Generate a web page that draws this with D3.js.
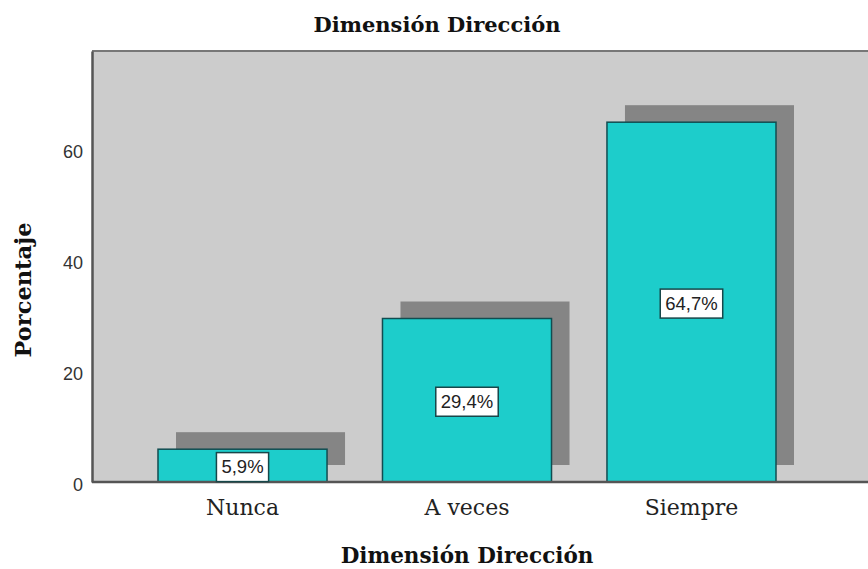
<!DOCTYPE html>
<html>
<head>
<meta charset="utf-8">
<script src="https://cdn.jsdelivr.net/npm/d3@7"></script>
<style>
  html, body { margin: 0; padding: 0; background: #ffffff; }
  svg { display: block; }
</style>
</head>
<body>
<svg id="chart" width="868" height="569"></svg>
<script>
// Frequency distribution for "Dimensión Dirección"
const categories = ["Nunca", "A veces", "Siempre"];
const percentages = [5.9, 29.4, 64.7];
const valueLabels = ["5,9%", "29,4%", "64,7%"];
const yTicks = [0, 20, 40, 60];

const chartTitle = "Dimensión Dirección";
const xTitle = "Dimensión Dirección";
const yTitle = "Porcentaje";

const W = 868, H = 569;
const plot = { left: 92, top: 51, right: 880, bottom: 482 };

const svg = d3.select("#chart");

const x = d3.scaleBand()
  .domain(categories)
  .range([plot.left, 842])
  .paddingInner(0.247)
  .paddingOuter(0.294);

const y = d3.scaleLinear()
  .domain([0, 77.5])
  .range([plot.bottom, plot.top]);

const serif = "'DejaVu Serif', 'Liberation Serif', serif";
const sans = "'Liberation Sans', Arial, sans-serif";

// plot background
svg.append("rect")
  .attr("x", plot.left).attr("y", plot.top)
  .attr("width", plot.right - plot.left)
  .attr("height", plot.bottom - plot.top)
  .attr("fill", "#cccccc");

// top frame line
svg.append("line")
  .attr("x1", plot.left).attr("x2", plot.right)
  .attr("y1", plot.top).attr("y2", plot.top)
  .attr("stroke", "#777777").attr("stroke-width", 2);

// drop shadows behind bars
const shadowDx = 18, shadowDy = -17;
svg.append("g").selectAll("rect")
  .data(percentages)
  .join("rect")
  .attr("x", (d, i) => x(categories[i]) + shadowDx)
  .attr("y", d => y(d) + shadowDy)
  .attr("width", x.bandwidth())
  .attr("height", d => y(0) - y(d))
  .attr("fill", "#858585");

// bars
svg.append("g").selectAll("rect")
  .data(percentages)
  .join("rect")
  .attr("x", (d, i) => x(categories[i]))
  .attr("y", d => y(d))
  .attr("width", x.bandwidth())
  .attr("height", d => y(0) - y(d))
  .attr("fill", "#1dcdcb")
  .attr("stroke", "#124c50")
  .attr("stroke-width", 1.5);

// y axis (no tick marks)
const yAxis = d3.axisLeft(y).tickValues(yTicks).tickSize(0).tickPadding(9);
const gy = svg.append("g")
  .attr("transform", `translate(${plot.left},0)`)
  .call(yAxis);
gy.select(".domain").attr("stroke", "#555555").attr("stroke-width", 2.5);
gy.selectAll("text")
  .attr("font-family", sans).attr("font-size", 18)
  .attr("fill", "#333333").attr("dy", "0.65em")
  .attr("y", -3);

// x axis
const xAxis = d3.axisBottom(x).tickSize(0).tickPadding(17);
const gx = svg.append("g")
  .attr("transform", `translate(0,${plot.bottom})`)
  .call(xAxis);
gx.select(".domain").attr("stroke", "#555555").attr("stroke-width", 2.5)
  .attr("d", `M${plot.left},0H${plot.right}`);
gx.selectAll("text")
  .attr("font-family", serif).attr("font-size", 22)
  .attr("fill", "#222222");

// value labels in boxes
const labels = svg.append("g").selectAll("g")
  .data(percentages)
  .join("g")
  .attr("transform", (d, i) =>
    `translate(${x(categories[i]) + x.bandwidth() / 2},${(y(d) + y(0)) / 2 + 1})`);

labels.append("text")
  .attr("text-anchor", "middle")
  .attr("dy", "0.35em")
  .attr("font-family", sans).attr("font-size", 18.5)
  .attr("fill", "#222222")
  .text((d, i) => valueLabels[i]);

labels.each(function () {
  const g = d3.select(this);
  const bb = g.select("text").node().getBBox();
  g.insert("rect", "text")
    .attr("x", bb.x - 5).attr("y", -14)
    .attr("width", bb.width + 10).attr("height", 29)
    .attr("fill", "#ffffff")
    .attr("stroke", "#17474a").attr("stroke-width", 1.5);
});

// titles
svg.append("text")
  .attr("x", 437).attr("y", 32)
  .attr("text-anchor", "middle")
  .attr("font-family", serif).attr("font-weight", "bold").attr("font-size", 21)
  .attr("fill", "#111111")
  .text(chartTitle);

svg.append("text")
  .attr("x", 467).attr("y", 563)
  .attr("text-anchor", "middle")
  .attr("font-family", serif).attr("font-weight", "bold").attr("font-size", 21.5)
  .attr("fill", "#111111")
  .text(xTitle);

svg.append("text")
  .attr("transform", "translate(31,290) rotate(-90)")
  .attr("text-anchor", "middle")
  .attr("font-family", serif).attr("font-weight", "bold").attr("font-size", 22.5)
  .attr("fill", "#111111")
  .text(yTitle);
</script>
</body>
</html>
